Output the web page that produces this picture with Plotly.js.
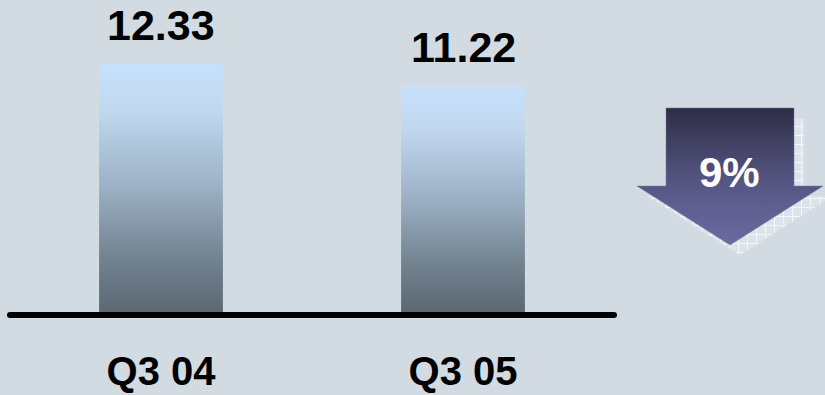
<!DOCTYPE html>
<html>
<head>
<meta charset="utf-8">
<script src="https://cdn.plot.ly/plotly-3.0.1.min.js"></script>
<style>
  html, body { margin: 0; padding: 0; background: #d3dbe2; }
  #chart { width: 825px; height: 395px; }
</style>
</head>
<body>
<div id="chart"></div>
<script>
// ---- data ----
const categories = ['Q3 04', 'Q3 05'];
const values = [12.33, 11.22];
const valueLabels = ['12.33', '11.22'];
const changeLabel = '9%';

// ---- layout geometry ----
const W = 825, H = 395;
const M = { l: 10, r: 211, t: 10, b: 82 };
const PW = W - M.l - M.r, PH = H - M.t - M.b;
const px2x = px => (px - M.l) / PW;
const px2y = py => 1 - (py - M.t) / PH;
const FONT = '"Liberation Sans", Arial, Helvetica, sans-serif';

function poly(pts, dx, dy) {
  return pts.map((p, i) => (i ? 'L' : 'M') + px2x(p[0] + dx).toFixed(4) + ',' + px2y(p[1] + dy).toFixed(4)).join(' ') + ' Z';
}
// decorative down arrow (pixel outline)
const arrowPts = [[666,108],[794,108],[794,186],[823,186],[730,245],[637,186],[666,186]];

const trace = {
  type: 'bar',
  x: categories,
  y: values,
  width: 0.41,
  marker: { color: '#8fa3b6', line: { width: 0 } },
  hoverinfo: 'none'
};

const annotations = categories.map((c, i) => ({
  x: c, y: values[i], xref: 'x', yref: 'y',
  text: valueLabels[i], showarrow: false,
  yanchor: 'bottom', yshift: 13,
  font: { family: FONT, size: 43, color: '#000', weight: 'bold' }
}));
annotations.push({
  x: px2x(729), y: px2y(172), xref: 'paper', yref: 'paper',
  text: changeLabel, showarrow: false,
  xanchor: 'center', yanchor: 'middle',
  font: { family: FONT, size: 42, color: '#ffffff', weight: 'bold' }
});

const shapes = [
  { type: 'path', xref: 'paper', yref: 'paper', path: poly(arrowPts, 10, 10),
    fillcolor: '#e2e7ee', line: { width: 0 } },
  { type: 'path', xref: 'paper', yref: 'paper', path: poly(arrowPts, 0, 0),
    fillcolor: '#4a4a72', line: { color: '#6f7898', width: 0.5 } },
  { type: 'line', xref: 'paper', x0: px2x(10), x1: px2x(614),
    yref: 'paper', y0: px2y(315), y1: px2y(315),
    line: { color: '#000000', width: 6 } }
];

const layout = {
  width: W, height: H,
  margin: M,
  paper_bgcolor: '#d3dbe2',
  plot_bgcolor: '#d3dbe2',
  showlegend: false,
  font: { family: FONT },
  xaxis: {
    type: 'category', range: [-0.5, 1.5], fixedrange: true,
    showgrid: false, zeroline: false, showline: false, ticks: '',
    tickfont: { family: FONT, size: 40, color: '#000', weight: 'bold' },
    ticklabelstandoff: 31
  },
  yaxis: {
    range: [0, 15], visible: false, fixedrange: true,
    showgrid: false, zeroline: false
  },
  annotations: annotations,
  shapes: shapes
};

Plotly.newPlot('chart', [trace], layout, { staticPlot: true, displayModeBar: false }).then(gd => {
  const svg = gd.querySelector('.main-svg');
  const NS = 'http://www.w3.org/2000/svg';
  const defs = document.createElementNS(NS, 'defs');
  defs.innerHTML =
    '<linearGradient id="barGrad" x1="0" y1="0" x2="0" y2="1">' +
      '<stop offset="0" stop-color="#c7e1fb"/>' +
      '<stop offset="0.18" stop-color="#c2d8f0"/>' +
      '<stop offset="0.5" stop-color="#9bb0c4"/>' +
      '<stop offset="0.78" stop-color="#72828f"/>' +
      '<stop offset="1" stop-color="#5b6874"/>' +
    '</linearGradient>' +
    '<linearGradient id="arrowGrad" x1="0" y1="0" x2="0" y2="1">' +
      '<stop offset="0" stop-color="#2e2e46"/>' +
      '<stop offset="0.55" stop-color="#565684"/>' +
      '<stop offset="1" stop-color="#6b6ba2"/>' +
    '</linearGradient>' +
    '<pattern id="hatch" width="9" height="9" patternUnits="userSpaceOnUse">' +
      '<rect width="9" height="9" fill="#dde3ea"/>' +
      '<path d="M0,0.5 H9 M0.5,0 V9" stroke="#f3f5f8" stroke-width="1"/>' +
    '</pattern>';
  svg.insertBefore(defs, svg.firstChild);
  gd.querySelectorAll('.trace.bars .point path').forEach(p => { p.style.fill = 'url(#barGrad)'; });
  gd.querySelectorAll('.shapelayer path').forEach(p => {
    const idx = p.getAttribute('data-index');
    if (idx === '0') p.style.fill = 'url(#hatch)';
    if (idx === '1') p.style.fill = 'url(#arrowGrad)';
    if (idx === '2') p.style.strokeLinecap = 'round';
  });
});
</script>
</body>
</html>
